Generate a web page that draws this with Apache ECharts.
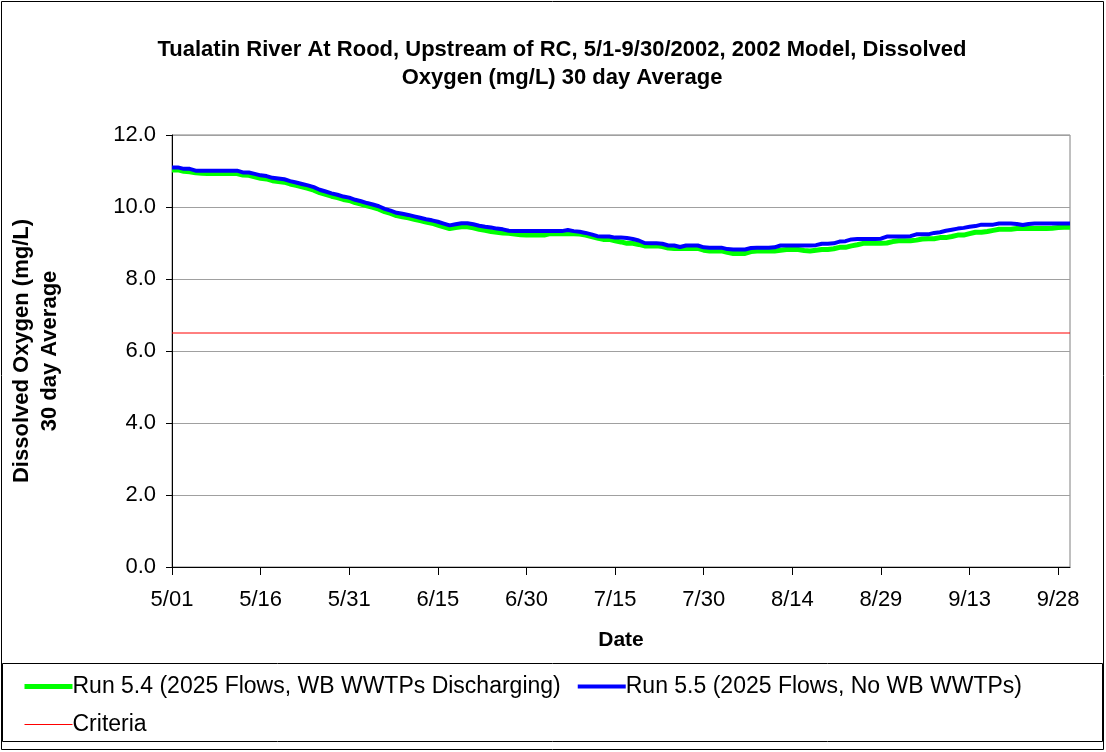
<!DOCTYPE html>
<html>
<head>
<meta charset="utf-8">
<script src="https://cdn.jsdelivr.net/npm/echarts@6/dist/echarts.min.js"></script>
<style>
  html, body { margin: 0; padding: 0; background: #fff; }
  #chart { width: 1106px; height: 752px; }
</style>
</head>
<body>
<div id="chart"></div>
<script>
// daily dates 5/01 .. 9/30 (2002)
const months = [5, 6, 7, 8, 9]
const monthDays = [31, 30, 31, 31, 30]

const run54 = [
  11.03, 11.03, 10.99, 10.98, 10.95, 10.94, 10.93, 10.93, 10.93, 10.93,
  10.93, 10.93, 10.89, 10.88, 10.84, 10.80, 10.78, 10.73, 10.71, 10.69,
  10.64, 10.60, 10.56, 10.52, 10.47, 10.40, 10.35, 10.30, 10.26, 10.21,
  10.18, 10.12, 10.08, 10.03, 9.99, 9.94, 9.87, 9.82, 9.76, 9.73,
  9.70, 9.66, 9.62, 9.58, 9.55, 9.50, 9.45, 9.40, 9.43, 9.45,
  9.45, 9.42, 9.38, 9.35, 9.32, 9.30, 9.28, 9.27, 9.25, 9.23,
  9.22, 9.22, 9.22, 9.22, 9.26, 9.26, 9.26, 9.26, 9.26, 9.25,
  9.22, 9.18, 9.14, 9.10, 9.10, 9.06, 9.03, 8.99, 8.99, 8.96,
  8.92, 8.92, 8.92, 8.90, 8.86, 8.85, 8.85, 8.85, 8.85, 8.85,
  8.80, 8.78, 8.78, 8.78, 8.74, 8.71, 8.71, 8.71, 8.76, 8.78,
  8.78, 8.78, 8.78, 8.80, 8.82, 8.82, 8.82, 8.79, 8.78, 8.80,
  8.82, 8.82, 8.84, 8.88, 8.88, 8.92, 8.95, 8.99, 8.99, 8.99,
  8.99, 9.00, 9.04, 9.06, 9.06, 9.06, 9.08, 9.11, 9.12, 9.12,
  9.15, 9.15, 9.18, 9.22, 9.22, 9.26, 9.30, 9.30, 9.32, 9.35,
  9.38, 9.38, 9.38, 9.40, 9.40, 9.40, 9.40, 9.40, 9.40, 9.41,
  9.43, 9.44, 9.44
]

const run55 = [
  11.10, 11.10, 11.06, 11.06, 11.01, 11.01, 11.01, 11.01, 11.01, 11.01,
  11.01, 11.01, 10.96, 10.96, 10.92, 10.88, 10.86, 10.81, 10.79, 10.77,
  10.72, 10.68, 10.64, 10.60, 10.55, 10.48, 10.43, 10.38, 10.34, 10.29,
  10.26, 10.20, 10.16, 10.11, 10.07, 10.02, 9.95, 9.90, 9.84, 9.81,
  9.78, 9.74, 9.70, 9.66, 9.63, 9.59, 9.54, 9.49, 9.52, 9.55,
  9.55, 9.52, 9.48, 9.45, 9.43, 9.40, 9.38, 9.34, 9.33, 9.33,
  9.33, 9.33, 9.33, 9.33, 9.33, 9.33, 9.33, 9.36, 9.33, 9.31,
  9.28, 9.24, 9.19, 9.18, 9.18, 9.15, 9.15, 9.14, 9.11, 9.07,
  9.00, 8.99, 8.99, 8.98, 8.93, 8.93, 8.89, 8.93, 8.93, 8.93,
  8.88, 8.87, 8.87, 8.87, 8.83, 8.82, 8.82, 8.82, 8.86, 8.87,
  8.87, 8.87, 8.88, 8.93, 8.93, 8.93, 8.93, 8.93, 8.93, 8.94,
  8.98, 8.98, 8.99, 9.04, 9.05, 9.10, 9.11, 9.11, 9.11, 9.11,
  9.12, 9.18, 9.18, 9.18, 9.18, 9.19, 9.24, 9.24, 9.24, 9.28,
  9.30, 9.34, 9.37, 9.40, 9.42, 9.45, 9.47, 9.51, 9.51, 9.51,
  9.54, 9.54, 9.54, 9.53, 9.50, 9.53, 9.54, 9.54, 9.54, 9.54,
  9.54, 9.54, 9.54
]

const criteria = 6.5
const yTicks = [0, 2, 4, 6, 8, 10, 12]

let dates = []
for (let m = 0; m < months.length; m++) {
  for (let d = 1; d <= monthDays[m]; d++) {
    dates.push(months[m] + '/' + (d < 10 ? '0' + d : d))
  }
}

const font = 'Liberation Sans, Arial, sans-serif'
var myChart = echarts.init(document.getElementById('chart'), null, { renderer: 'canvas' })

var option = {
  backgroundColor: '#fff',
  animation: false,
  title: {
    text: 'Tualatin River At Rood, Upstream of RC, 5/1-9/30/2002, 2002 Model, Dissolved\nOxygen (mg/L) 30 day Average',
    left: 557,
    top: 31,
    textAlign: 'center',
    textStyle: { fontFamily: font, fontSize: 22, fontWeight: 'bold', color: '#000', lineHeight: 28 }
  },
  grid: {
    left: 172, top: 135, right: 36, bottom: 185,
    show: true, borderColor: '#808080', borderWidth: 1
  },
  xAxis: {
    type: 'category',
    data: dates,
    boundaryGap: false,
    name: 'Date',
    nameLocation: 'middle',
    nameGap: 63,
    nameTextStyle: { fontFamily: font, fontSize: 21, fontWeight: 'bold', color: '#000' },
    axisLine: { lineStyle: { color: '#000', width: 1 } },
    axisTick: { interval: 14, length: 8, lineStyle: { color: '#000' } },
    axisLabel: { interval: 14, margin: 22, fontFamily: font, fontSize: 22, color: '#000' },
    splitLine: { show: false }
  },
  yAxis: {
    type: 'value',
    min: yTicks[0],
    max: yTicks[yTicks.length - 1],
    interval: 2,
    name: 'Dissolved Oxygen (mg/L)\n30 day Average',
    nameLocation: 'middle',
    nameGap: 108,
    nameTextStyle: { fontFamily: font, fontSize: 22, fontWeight: 'bold', color: '#000', lineHeight: 28 },
    axisLine: { show: true, lineStyle: { color: '#000', width: 1 } },
    axisTick: { show: true, length: 6, lineStyle: { color: '#000' } },
    axisLabel: {
      margin: 16, fontFamily: font, fontSize: 22, color: '#000',
      formatter: v => v.toFixed(1)
    },
    splitLine: { show: true, lineStyle: { color: '#a0a0a0', width: 1 } }
  },
  legend: {
    left: 17,
    top: 670,
    width: 1080,
    itemWidth: 48,
    itemHeight: 14,
    itemGap: 15,
    itemStyle: { color: 'rgba(0,0,0,0)', borderWidth: 0 },
    textStyle: { fontFamily: font, fontSize: 23, color: '#000', padding: [0, 0, 0, -5] },
    data: [
      { name: 'Run 5.4 (2025 Flows, WB WWTPs Discharging)', lineStyle: { color: '#00ff00', width: 5 } },
      { name: 'Run 5.5 (2025 Flows, No WB WWTPs)', lineStyle: { color: '#0000ff', width: 4 } },
      { name: 'Criteria', lineStyle: { color: '#ff0000', width: 1 } }
    ]
  },
  graphic: [
    { type: 'rect', shape: { x: 1.5, y: 1.5, width: 1102, height: 748 }, style: { fill: null, stroke: '#000', lineWidth: 1 }, silent: true },
    { type: 'rect', shape: { x: 2.5, y: 663.5, width: 1100, height: 78 }, style: { fill: null, stroke: '#000', lineWidth: 1 }, silent: true }
  ],
  series: [
    {
      name: 'Criteria',
      type: 'line',
      data: [[dates[0], criteria], [dates[dates.length - 1], criteria]],
      symbol: 'none',
      lineStyle: { color: '#ff0000', width: 1 },
      itemStyle: { color: '#ff0000' },
      z: 2
    },
    {
      name: 'Run 5.4 (2025 Flows, WB WWTPs Discharging)',
      type: 'line',
      data: run54,
      symbol: 'none',
      lineStyle: { color: '#00ff00', width: 5 },
      itemStyle: { color: '#00ff00' },
      z: 3
    },
    {
      name: 'Run 5.5 (2025 Flows, No WB WWTPs)',
      type: 'line',
      data: run55,
      symbol: 'none',
      lineStyle: { color: '#0000ff', width: 4 },
      itemStyle: { color: '#0000ff' },
      z: 4
    }
  ]
}

myChart.setOption(option)
window.addEventListener('resize', myChart.resize)
</script>
</body>
</html>
